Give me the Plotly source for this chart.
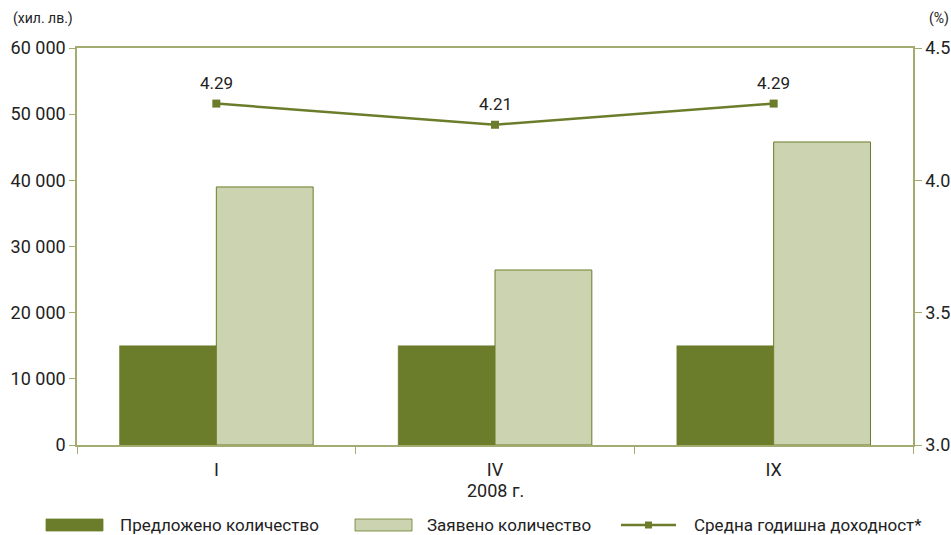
import plotly.graph_objects as go

categories = ["I", "IV", "IX"]
offered = [15000, 15000, 15000]
requested = [39000, 26450, 45800]
yield_pct = [4.29, 4.21, 4.29]
yield_labels = ["4.29", "4.21", "4.29"]
legend_names = ["Предложено количество", "Заявено количество", "Средна годишна доходност*"]

DARK = "#6b7d2a"
LIGHT = "#ccd3b0"
AXIS = "#a3ab70"
TXT = "#222222"
FONT = "Roboto, Arial, sans-serif"

W, H = 951, 535
L, R, T, B = 77, 38, 48, 90
PW, PH = W - L - R, H - T - B


def px_x(x):
    return (x - L) / PW


def px_y(y):
    return (H - B - y) / PH


fig = go.Figure()
fig.add_trace(go.Bar(x=categories, y=offered, name=legend_names[0],
                     marker=dict(color=DARK, line=dict(color=DARK, width=0.5))))
fig.add_trace(go.Bar(x=categories, y=requested, name=legend_names[1],
                     marker=dict(color=LIGHT, line=dict(color=DARK, width=1))))
fig.add_trace(go.Scatter(x=categories, y=yield_pct, name=legend_names[2],
                         yaxis="y2", mode="lines+markers",
                         line=dict(color=DARK, width=2.5),
                         marker=dict(symbol="square", size=8, color=DARK)))

annotations = [
    dict(text="(хил. лв.)", xref="paper", yref="paper", x=px_x(11), y=px_y(18),
         xanchor="left", yanchor="middle", showarrow=False, font=dict(size=14)),
    dict(text="(%)", xref="paper", yref="paper", x=px_x(927), y=px_y(18),
         xanchor="left", yanchor="middle", showarrow=False, font=dict(size=14)),
    dict(text="2008 г.", xref="paper", yref="paper", x=0.5, y=px_y(490),
         xanchor="center", yanchor="middle", showarrow=False, font=dict(size=18)),
]
for c, v, t in zip(categories, yield_pct, yield_labels):
    annotations.append(dict(text=t, x=c, y=v, xref="x", yref="y2", yshift=21,
                            showarrow=False, font=dict(size=17, color=TXT)))

# custom legend
shapes = []
sw = [(46, 103), (355, 412)]
fills = [(DARK, DARK), (LIGHT, DARK)]
text_x = [118, 425, 692]
for (x0, x1), (fc, lc) in zip(sw, fills):
    shapes.append(dict(type="rect", xref="paper", yref="paper",
                       x0=px_x(x0), x1=px_x(x1), y0=px_y(531), y1=px_y(519),
                       fillcolor=fc, line=dict(color=lc, width=0.8)))
shapes.append(dict(type="line", xref="paper", yref="paper",
                   x0=px_x(621), x1=px_x(676), y0=px_y(525), y1=px_y(525),
                   line=dict(color=DARK, width=2.5)))
shapes.append(dict(type="rect", xref="paper", yref="paper",
                   x0=px_x(645), x1=px_x(652), y0=px_y(528.5), y1=px_y(521.5),
                   fillcolor=DARK, line=dict(color=DARK, width=0)))
for name, tx in zip(legend_names, text_x):
    annotations.append(dict(text=name, xref="paper", yref="paper", x=px_x(tx), y=px_y(525),
                            xanchor="left", yanchor="middle", showarrow=False,
                            font=dict(size=17, color=TXT)))

fig.update_layout(
    width=W, height=H,
    margin=dict(l=L, r=R, t=T, b=B),
    plot_bgcolor="white", paper_bgcolor="white",
    font=dict(family=FONT, size=16, color=TXT),
    barmode="group", bargap=0.305, bargroupgap=0,
    showlegend=False,
    xaxis=dict(showline=True, linecolor=AXIS, linewidth=1.5, mirror=True,
               ticks="outside", tickson="boundaries", ticklen=7, tickcolor=AXIS,
               ticklabelstandoff=8,
               tickfont=dict(size=18), automargin=False),
    yaxis=dict(range=[0, 60000], tickvals=[0, 10000, 20000, 30000, 40000, 50000, 60000],
               ticktext=["0", "10 000", "20 000", "30 000", "40 000", "50 000", "60 000"],
               showgrid=False, zeroline=False, showline=True, linecolor=AXIS, linewidth=1.5,
               ticks="outside", ticklen=6, tickcolor=AXIS, tickfont=dict(size=18),
               automargin=False),
    yaxis2=dict(range=[3.0, 4.5], overlaying="y", side="right",
                tickvals=[3.0, 3.5, 4.0, 4.5], ticktext=["3.0", "3.5", "4.0", "4.5"],
                showgrid=False, zeroline=False, showline=True, linecolor=AXIS, linewidth=1.5,
                ticks="outside", ticklen=7, tickcolor=AXIS, tickfont=dict(size=18),
                automargin=False),
    annotations=annotations,
    shapes=shapes,
)

fig.write_html("out.html", config={"displayModeBar": False},
               post_script="document.body.style.margin='0';document.body.style.overflow='hidden';")
